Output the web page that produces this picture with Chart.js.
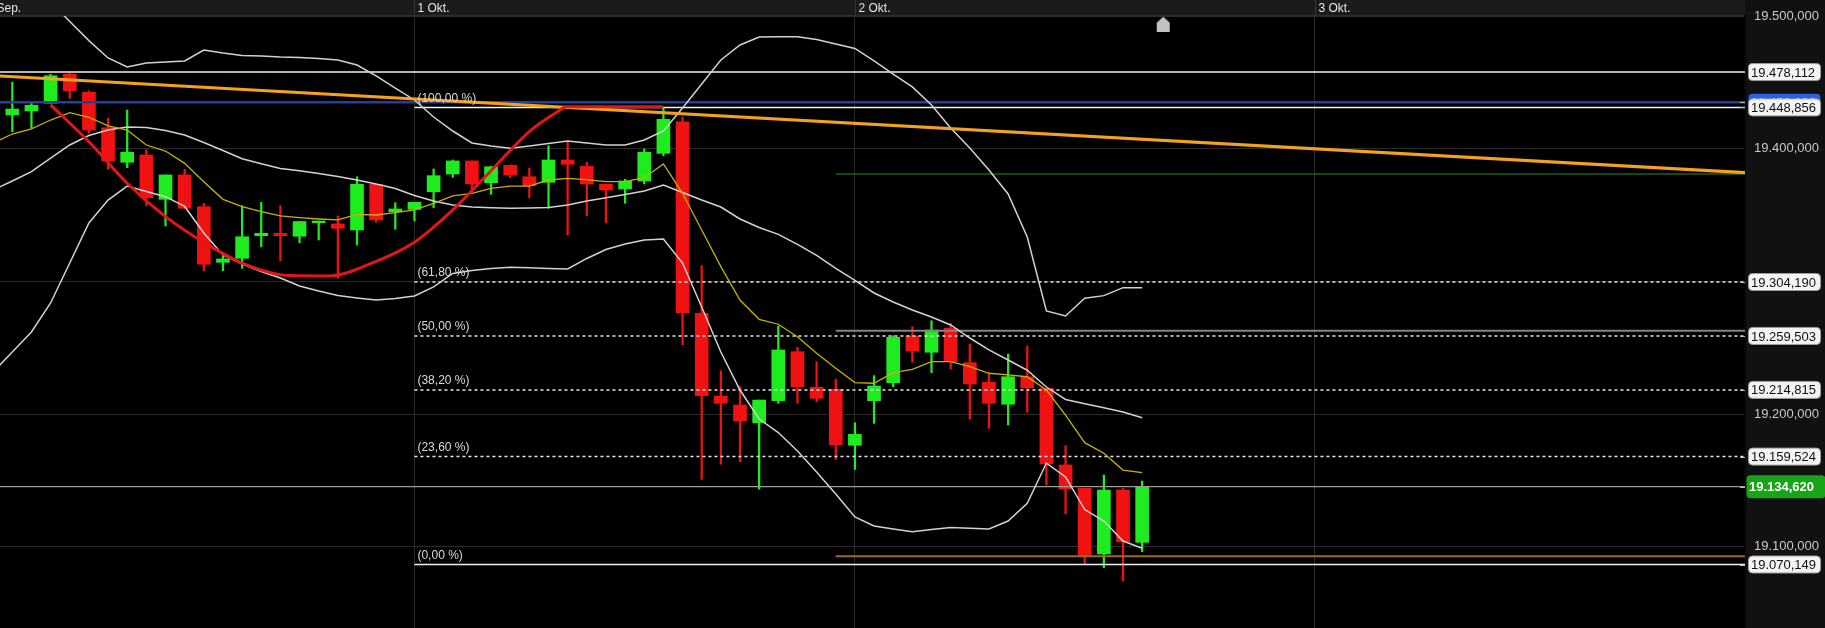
<!DOCTYPE html>
<html>
<head>
<meta charset="utf-8">
<script src="https://cdn.jsdelivr.net/npm/chart.js@4.4.1/dist/chart.umd.min.js"></script>
<style>
  html, body { margin: 0; padding: 0; background: #000; }
</style>
</head>
<body>
<canvas id="chart" width="1825" height="628"></canvas>
<script>
// Stunden-Kerzen (Index 0 = erste Kerze links)
var dateLabels = ["Sep.", "1 Okt.", "2 Okt.", "3 Okt."];
var dateIdx = [0, 22, 45, 69];

var openVals = [19432.6, 19442.6, 19445.9, 19452.3, 19476.3, 19461.4, 19432.0, 19403.4, 19409.4, 19372.7,
    19392.9, 19366.6, 19320.5, 19323.8, 19342.6, 19344.5, 19342.1, 19353.3, 19352.3, 19347.3,
    19385.1, 19362.4, 19364.4, 19379.0, 19393.7, 19404.5, 19386.5, 19400.9, 19391.4, 19386.8,
    19405.3, 19400.1, 19385.1, 19381.3, 19387.9, 19410.8, 19437.0, 19278.3, 19209.7, 19202.3,
    19187.6, 19205.9, 19246.5, 19217.0, 19215.3, 19168.9, 19205.9, 19220.8, 19259.5, 19246.0,
    19265.8, 19237.3, 19221.1, 19202.9, 19225.7, 19216.1, 19152.6, 19133.3, 19078.9, 19131.9,
    19088.5];
var highVals = [19446.7, 19469.7, 19452.3, 19476.3, 19477.1, 19462.5, 19439.8, 19446.7, 19413.6, 19392.9,
    19397.6, 19369.4, 19325.7, 19367.4, 19370.2, 19367.4, 19354.3, 19354.7, 19358.9, 19391.4,
    19385.1, 19369.9, 19370.2, 19397.8, 19405.3, 19404.5, 19399.7, 19400.9, 19398.4, 19417.1,
    19420.4, 19403.6, 19385.1, 19389.3, 19414.4, 19448.9, 19440.9, 19317.7, 19230.7, 19217.5,
    19206.4, 19267.7, 19250.1, 19238.2, 19223.6, 19187.6, 19226.6, 19259.7, 19267.2, 19272.1,
    19270.0, 19252.8, 19228.0, 19244.5, 19251.2, 19216.1, 19168.6, 19133.3, 19144.3, 19133.3,
    19139.3];
var lowVals = [19426.0, 19428.7, 19431.5, 19452.3, 19456.4, 19427.4, 19397.6, 19398.9, 19367.4, 19350.6,
    19365.3, 19313.6, 19313.6, 19315.5, 19333.4, 19321.8, 19336.8, 19339.0, 19307.3, 19334.9,
    19353.7, 19347.9, 19354.7, 19365.8, 19390.9, 19380.4, 19376.9, 19390.6, 19374.0, 19365.3,
    19343.1, 19358.9, 19353.3, 19369.4, 19385.4, 19408.8, 19252.0, 19140.7, 19153.2, 19155.3,
    19132.5, 19203.7, 19203.7, 19205.0, 19157.3, 19148.9, 19187.1, 19217.5, 19237.7, 19229.1,
    19232.1, 19190.7, 19183.0, 19185.7, 19196.2, 19136.0, 19112.0, 19070.1, 19067.5, 19056.5,
    19080.8];
var closeVals = [19442.6, 19447.5, 19450.6, 19475.1, 19462.7, 19430.1, 19404.5, 19411.7, 19374.0, 19392.9,
    19365.3, 19318.9, 19323.3, 19341.7, 19344.5, 19342.6, 19354.3, 19354.7, 19348.7, 19385.1,
    19355.6, 19364.7, 19370.2, 19392.3, 19404.5, 19385.4, 19399.7, 19392.9, 19384.0, 19405.3,
    19401.7, 19385.4, 19380.4, 19387.9, 19411.7, 19439.0, 19278.8, 19210.0, 19203.7, 19189.0,
    19206.4, 19247.9, 19217.5, 19207.8, 19169.2, 19178.0, 19218.0, 19258.4, 19247.0, 19264.4,
    19238.2, 19219.7, 19203.7, 19225.7, 19216.6, 19153.4, 19132.7, 19077.4, 19131.9, 19089.0,
    19134.62];

// Bollinger-Baender und gleitender Durchschnitt
var upperBand = [19583.4, 19567.7, 19551.9, 19536.2, 19520.0, 19504.2, 19489.8, 19482.3, 19485.6, 19486.5,
    19487.3, 19496.4, 19493.9, 19491.9, 19491.4, 19490.6, 19490.2, 19489.4, 19488.1, 19484.0,
    19474.9, 19464.9, 19455.0, 19440.9, 19429.3, 19419.4, 19416.9, 19415.0, 19416.9, 19419.0,
    19421.0, 19419.4, 19417.7, 19417.7, 19421.9, 19429.3, 19448.4, 19468.3, 19488.1, 19500.6,
    19507.2, 19507.4, 19507.4, 19505.1, 19501.4, 19497.7, 19487.3, 19476.5, 19465.8, 19450.9,
    19431.8, 19415.2, 19397.0, 19377.1, 19341.5, 19280.2, 19276.0, 19290.7, 19292.9, 19299.5,
    19299.5];
var midBand = [19380.4, 19387.9, 19395.6, 19406.9, 19417.7, 19425.6, 19430.1, 19432.6, 19432.2, 19429.7,
    19426.0, 19419.8, 19413.2, 19406.3, 19402.1, 19398.2, 19396.4, 19394.1, 19391.6, 19388.7,
    19385.4, 19381.7, 19375.9, 19371.3, 19368.0, 19366.3, 19365.7, 19365.3, 19365.5, 19365.9,
    19368.0, 19371.3, 19374.0, 19376.7, 19379.6, 19384.6, 19378.4, 19372.1, 19366.3, 19356.4,
    19349.4, 19343.7, 19335.3, 19326.2, 19315.4, 19305.5, 19295.1, 19287.6, 19281.0, 19275.2,
    19268.6, 19257.8, 19247.9, 19239.6, 19231.1, 19217.2, 19206.9, 19203.4, 19200.1, 19196.5,
    19191.8];
var lowerBand = [19229.6, 19246.2, 19262.8, 19286.8, 19319.9, 19353.1, 19372.1, 19383.7, 19379.2, 19374.9,
    19366.8, 19344.8, 19326.6, 19319.1, 19312.9, 19307.5, 19300.9, 19296.7, 19293.0, 19291.0,
    19289.3, 19290.5, 19292.6, 19300.1, 19311.3, 19313.7, 19315.4, 19316.4, 19316.0, 19315.4,
    19315.0, 19323.7, 19331.1, 19335.7, 19339.0, 19339.8, 19319.9, 19283.5, 19246.2, 19214.7,
    19190.7, 19179.5, 19164.2, 19146.8, 19128.6, 19109.5, 19102.1, 19099.6, 19097.3, 19099.2,
    19100.8, 19100.1, 19099.6, 19106.2, 19120.9, 19154.2, 19142.7, 19115.7, 19106.2, 19089.6,
    19083.6];
var maLine = [19419.4, 19426.8, 19431.0, 19438.4, 19444.5, 19440.7, 19433.5, 19430.1, 19417.7, 19412.7,
    19402.5, 19387.3, 19372.7, 19366.6, 19362.5, 19358.9, 19357.5, 19356.4, 19355.6, 19360.3,
    19359.7, 19361.6, 19363.9, 19369.4, 19375.5, 19377.7, 19381.8, 19383.7, 19383.7, 19388.7,
    19390.1, 19389.1, 19387.3, 19387.3, 19390.6, 19402.0, 19377.7, 19347.3, 19316.9, 19289.3,
    19273.3, 19269.2, 19258.9, 19245.1, 19232.7, 19220.9, 19220.3, 19229.1, 19231.9, 19238.2,
    19238.2, 19234.0, 19228.6, 19227.2, 19225.7, 19214.7, 19194.0, 19171.1, 19162.3, 19148.4,
    19146.2];

// Zeichnungen
var cupIdx = [3, 5, 7, 9, 11, 13, 15.5, 17.5, 20, 22, 24, 26, 28, 29.86];
var cupVals = [19450.9, 19420.4, 19386.0, 19358.4, 19337.1, 19319.9, 19309.5, 19309.2, 19321.3, 19337.1,
    19363.9, 19396.4, 19428.8, 19449.4];
var cupTopIdx = [29.86, 35];
var cupTopVal = 19449.4;
var trendIdx = [0, 91.5];
var trendVals = [19475.2, 19394.8];

var fibAnchor = 22;
var fibPct = ["(100,00 %)", "(61,80 %)", "(50,00 %)", "(38,20 %)", "(23,60 %)", "(0,00 %)"];
var fibVals = [19448.856, 19304.190, 19259.503, 19214.815, 19159.524, 19070.149];

var resistanceLevel = 19478.112;
var blueLevel = 19453.080;
var lineAnchor = 44;
var greenLevel = 19393.7;
var grayLevel = 19263.9;
var brownLevel = 19076.9;
var lastPrice = 19134.620;

var boxVals = [19478.112, 19448.856, 19304.190, 19259.503, 19214.815, 19159.524, 19070.149];
var gridTicks = [19100, 19200, 19300, 19400, 19500];

var markerIdx = 61.1;
var markerVal = 19517.8;

var endSlot = 93;
var fontFamily = '"Liberation Sans", Arial, sans-serif';

function fmtPrice(v) {
    var parts = v.toFixed(3).split(".");
    return parts[0].replace(/\B(?=(\d{3})+(?!\d))/g, ".") + "," + parts[1];
}

function series(values) {
    return values.map(function (v, i) { return { x: i, y: v }; });
}

function hline(value, start, color, width, dash) {
    return {
        type: "line",
        data: [{ x: start, y: value }, { x: endSlot, y: value }],
        borderColor: color,
        borderWidth: width,
        borderDash: dash || [],
        pointRadius: 0,
        order: 6
    };
}

function band(values, color, width) {
    return {
        type: "line",
        data: series(values),
        borderColor: color,
        borderWidth: width,
        pointRadius: 0,
        tension: 0,
        order: 4
    };
}

function noPadding(scale) {
    scale.paddingTop = 0;
    scale.paddingBottom = 0;
    scale.paddingLeft = 0;
    scale.paddingRight = 0;
}

var candleColors = openVals.map(function (o, i) {
    return closeVals[i] >= o ? "#1fec1f" : "#f01212";
});

var houseIcon = document.createElement("canvas");
houseIcon.width = 15;
houseIcon.height = 15;
(function () {
    var c = houseIcon.getContext("2d");
    c.fillStyle = "#c2c2c2";
    c.beginPath();
    c.moveTo(7.5, 0);
    c.lineTo(14, 6);
    c.lineTo(14, 15);
    c.lineTo(1, 15);
    c.lineTo(1, 6);
    c.closePath();
    c.fill();
})();

var decor = {
    id: "decor",
    beforeDraw: function (chart) {
        var ctx = chart.ctx, area = chart.chartArea, xs = chart.scales.x;
        ctx.save();
        ctx.fillStyle = "#000";
        ctx.fillRect(0, 0, chart.width, chart.height);
        ctx.fillStyle = "#111";
        ctx.fillRect(area.right, 0, chart.width - area.right, chart.height);
        ctx.fillStyle = "#1b1b1b";
        ctx.fillRect(0, 0, area.right, area.top - 1);
        ctx.fillStyle = "#2d2d2d";
        ctx.fillRect(0, area.top - 1, area.right, 1);
        ctx.font = "12px " + fontFamily;
        ctx.textAlign = "left";
        ctx.textBaseline = "middle";
        dateIdx.forEach(function (d, k) {
            var px = Math.round(xs.getPixelForValue(d)) + 0.5;
            ctx.strokeStyle = "#333";
            ctx.lineWidth = 1;
            ctx.beginPath();
            ctx.moveTo(px, 0);
            ctx.lineTo(px, area.top);
            ctx.stroke();
            ctx.fillStyle = "#e4e4e4";
            ctx.fillText(dateLabels[k], px + 3, 8.5);
        });
        ctx.restore();
    },
    afterDraw: function (chart) {
        var ctx = chart.ctx, area = chart.chartArea, xs = chart.scales.x, ys = chart.scales.y;
        ctx.save();
        ctx.font = "12px " + fontFamily;
        ctx.fillStyle = "#dadada";
        ctx.textAlign = "left";
        ctx.textBaseline = "bottom";
        var fx = xs.getPixelForValue(fibAnchor) + 3;
        fibVals.forEach(function (v, k) {
            ctx.fillText(fibPct[k], fx, ys.getPixelForValue(v) - 3);
        });

        function box(v, fill, stroke, color, bold, h, x0, w) {
            var py = ys.getPixelForValue(v);
            ctx.beginPath();
            if (ctx.roundRect) ctx.roundRect(x0 + 0.5, py - h / 2, w, h, 4);
            else ctx.rect(x0 + 0.5, py - h / 2, w, h);
            ctx.fillStyle = fill;
            ctx.fill();
            if (stroke) {
                ctx.strokeStyle = stroke;
                ctx.lineWidth = 1;
                ctx.stroke();
            }
            ctx.font = (bold ? "bold " : "") + "13px " + fontFamily;
            ctx.fillStyle = color;
            ctx.textBaseline = "middle";
            ctx.textAlign = "left";
            ctx.fillText(fmtPrice(v), x0 + 3, py + 1);
            ctx.strokeStyle = "#bdbdbd";
            ctx.beginPath();
            ctx.moveTo(area.right - 5, Math.round(py) + 0.5);
            ctx.lineTo(area.right, Math.round(py) + 0.5);
            ctx.stroke();
        }

        box(blueLevel, "#2462e6", null, "#fff", false, 17, area.right + 3, 72);
        boxVals.forEach(function (v) {
            box(v, "#f3f3f3", "#9a9a9a", "#111", false, 17, area.right + 3, 72);
        });
        box(lastPrice, "#16a516", null, "#fff", true, 23, area.right + 1, 79);
        ctx.restore();
    }
};

var datasets = [
    hline(resistanceLevel, 0, "#f0f0f0", 1.5),
    hline(blueLevel, 0, "#22409c", 2.5),
    hline(fibVals[0], fibAnchor, "#f0f0f0", 1.5),
    hline(greenLevel, lineAnchor, "#1e5e1e", 1.5),
    hline(fibVals[1], fibAnchor, "#e6e6e6", 1.5, [3, 3]),
    hline(grayLevel, lineAnchor, "#858585", 2),
    hline(fibVals[2], fibAnchor, "#e6e6e6", 1.5, [3, 3]),
    hline(fibVals[3], fibAnchor, "#e6e6e6", 1.5, [3, 3]),
    hline(fibVals[4], fibAnchor, "#e6e6e6", 1.5, [3, 3]),
    hline(lastPrice, 0, "#9c9c9c", 1.2),
    hline(brownLevel, lineAnchor, "#a26a12", 2),
    hline(fibVals[5], fibAnchor, "#f0f0f0", 1.5),
    band(upperBand, "#d2d2d2", 1.5),
    band(midBand, "#d2d2d2", 1.5),
    band(lowerBand, "#d2d2d2", 1.5),
    {
        type: "line",
        data: series(maLine),
        borderColor: "#c8b000",
        borderWidth: 1.3,
        pointRadius: 0,
        order: 3
    },
    {
        type: "line",
        data: trendIdx.map(function (t, i) { return { x: t, y: trendVals[i] }; }),
        borderColor: "#f4a11e",
        borderWidth: 3,
        pointRadius: 0,
        order: 2
    },
    {
        type: "line",
        data: cupIdx.map(function (t, i) { return { x: t, y: cupVals[i] }; }),
        borderColor: "#e31515",
        borderWidth: 3,
        cubicInterpolationMode: "monotone",
        pointRadius: 0,
        order: 1
    },
    {
        type: "line",
        data: cupTopIdx.map(function (t) { return { x: t, y: cupTopVal }; }),
        borderColor: "#e31515",
        borderWidth: 3,
        pointRadius: 0,
        order: 1
    },
    {
        type: "bar",
        data: openVals.map(function (o, i) { return { x: i, y: [lowVals[i], highVals[i]] }; }),
        backgroundColor: candleColors,
        barThickness: 1.6,
        grouped: false,
        order: 10
    },
    {
        type: "bar",
        data: openVals.map(function (o, i) { return { x: i, y: [o, closeVals[i]] }; }),
        backgroundColor: candleColors,
        barThickness: 13,
        grouped: false,
        order: 9
    },
    {
        type: "scatter",
        data: [{ x: markerIdx, y: markerVal }],
        pointStyle: houseIcon,
        pointRadius: 8,
        order: 0
    }
];

Chart.defaults.font.family = fontFamily;

var chart = new Chart(document.getElementById("chart").getContext("2d"), {
    type: "bar",
    data: { datasets: datasets },
    plugins: [decor],
    options: {
        responsive: false,
        animation: false,
        devicePixelRatio: 1,
        events: [],
        layout: { autoPadding: false, padding: { top: 16, left: 0, right: 0, bottom: 0 } },
        plugins: { legend: { display: false }, tooltip: { enabled: false } },
        scales: {
            x: {
                type: "linear",
                position: "top",
                min: 0.3577,
                max: 91.48,
                offset: false,
                grid: { color: "#2b2b2b", drawTicks: false, offset: false },
                border: { display: false },
                ticks: { display: false },
                afterBuildTicks: function (scale) {
                    scale.ticks = dateIdx.filter(function (d) { return d > 0.3577; })
                        .map(function (d) { return { value: d }; });
                },
                afterFit: function (scale) {
                    scale.height = 0;
                    noPadding(scale);
                }
            },
            y: {
                type: "linear",
                display: false,
                min: 19017.54,
                max: 19524.58
            },
            yGrid: {
                type: "linear",
                position: "right",
                min: 19038.75,
                max: 19500.2,
                grid: { color: "#2b2b2b", drawTicks: false },
                border: { color: "#050505", width: 2 },
                ticks: {
                    color: "#c8c8c8",
                    font: { size: 13 },
                    padding: 9,
                    crossAlign: "near",
                    callback: function (v) { return fmtPrice(v); }
                },
                afterBuildTicks: function (scale) {
                    scale.ticks = gridTicks.map(function (t) { return { value: t }; });
                },
                afterFit: function (scale) {
                    scale.width = 80;
                    noPadding(scale);
                }
            }
        }
    }
});
</script>
</body>
</html>
